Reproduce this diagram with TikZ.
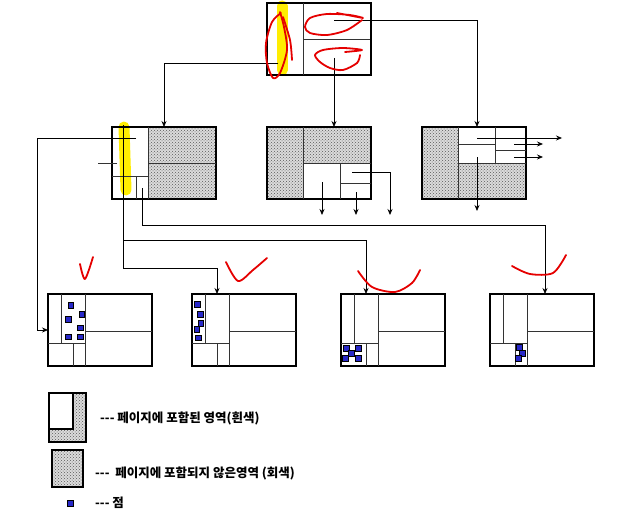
\documentclass[tikz,border=0pt]{standalone}
\usepackage{fontspec}
\newfontfamily\krfont{Noto Sans CJK KR}
\usetikzlibrary{patterns}
\usetikzlibrary{arrows.meta}

\definecolor{dotblue}{RGB}{40,40,200}

\tikzset{
  pagebox/.style={draw, line width=2.2pt, minimum width=104pt, minimum height=72pt,
    inner sep=0pt, outer sep=0pt, anchor=north west},
  grayarea/.style={pattern=crosshatch dots, pattern color=black!65, preaction={fill=black!14}},
  part/.style={black!80, line width=0.8pt},
  wire/.style={line width=0.8pt, -{Stealth[length=6pt,width=5pt]}},
  dotsq/.style={draw=black, fill=dotblue, line width=0.4pt, minimum size=5.5pt, inner sep=0pt},
  note/.style={red!90!black, line width=1.8pt, line cap=round, line join=round},
  hilite/.style={yellow!95!orange, line width=11pt, line cap=round},
  legendtext/.style={anchor=west, inner sep=0pt, font=\krfont\bfseries\fontsize{12.5}{14}\selectfont},
}

\begin{document}
\begin{tikzpicture}[x=1pt, y=-1pt]
  \useasboundingbox (0,0) rectangle (628,516);

  % highlighter marks
  \draw[hilite] (282,6) -- (282,70);
  \draw[hilite] (124,127) -- (126,190);

  % gray areas
  \fill[grayarea] (148,127) rectangle (216,199);
  \fill[grayarea] (267,127) rectangle (303,199);
  \fill[grayarea] (303,127) rectangle (371,163);
  \fill[grayarea] (422,127) rectangle (458,199);
  \fill[grayarea] (458,163) rectangle (526,199);

  % pages
  \node[pagebox] (top) at (267,3) {};
  \node[pagebox] (ml) at (112,127) {};
  \node[pagebox] (mc) at (267,127) {};
  \node[pagebox] (mr) at (422,127) {};
  \node[pagebox] (b1) at (48,294) {};
  \node[pagebox] (b2) at (192,294) {};
  \node[pagebox] (b3) at (341,294) {};
  \node[pagebox] (b4) at (490,294) {};

  % top page
  \draw[part] (303,3) -- (303,75);
  \draw[part] (303,39) -- (370,39);
  \coordinate (t1) at (278,63);
  \coordinate (t2) at (334,58);
  \coordinate (t3) at (334,20);
  \draw[wire] (t1) -| (ml.north);
  \draw[wire] (t2) -- (t2 |- mc.north);
  \draw[wire] (t3) -| ([xshift=3pt]mr.north);

  % middle left page
  \draw[part] (148,127) -- (148,199);
  \draw[part] (148,163) -- (216,163);
  \draw[part] (112,176) -- (148,176);
  \draw[part] (136,176) -- (136,199);
  \draw[part] (117,163) -- (98,163);
  \coordinate (m1) at (136,138);
  \coordinate (m2) at (123,125);
  \coordinate (m3) at (142,188);
  \coordinate (m4) at (123,240);
  \draw[wire] (m1) -- ++(-99,0) |- (b1.west);
  \draw[wire] (m2) -- ++(0,143) -| ([xshift=25pt]b2.north west);
  \draw[wire] (m4) -| ([xshift=25pt]b3.north west);
  \draw[wire] (m3) -- ++(0,37) -| ([xshift=55pt]b4.north west);

  % middle centre page
  \draw[part] (303,127) -- (303,199);
  \draw[part] (303,163) -- (371,163);
  \draw[part] (340,163) -- (340,199);
  \draw[part] (340,183) -- (371,183);
  \coordinate (c1) at (322,182);
  \coordinate (c2) at (356,192);
  \coordinate (c3) at (352,172);
  \draw[wire] (c1) -- ++(0,33);
  \draw[wire] (c2) -- ++(0,23);
  \draw[wire] (c3) -- ++(38,0) -- ++(0,43);

  % middle right page
  \draw[part] (458,127) -- (458,199);
  \draw[part] (458,163) -- (526,163);
  \draw[part] (495,127) -- (495,163);
  \draw[part] (458,144) -- (495,144);
  \draw[part] (495,150) -- (526,150);
  \coordinate (r1) at (477,138);
  \coordinate (r2) at (514,144);
  \coordinate (r3) at (514,157);
  \coordinate (r4) at (477,157);
  \draw[wire] (r1) -- ++(85,0);
  \draw[wire] (r2) -- ++(29,0);
  \draw[wire] (r3) -- ++(29,0);
  \draw[wire] (r4) -- ++(0,54);

  % bottom pages
  \foreach \x in {48,192,341,490} {
    \draw[part] (\x+13,294) -- (\x+13,343);
    \draw[part] (\x+37,294) -- (\x+37,366);
    \draw[part] (\x,343) -- (\x+37,343);
    \draw[part] (\x+25,343) -- (\x+25,366);
    \draw[part] (\x+37,331) -- (\x+104,331);
  }

  % points
  \foreach \p [count=\i] in {(70.7,305),(81.7,314),(68.3,319),(80,327.7),(68.3,336.7),(80,336.7)}
    \node[dotsq] (p1-\i) at \p {};
  \foreach \p [count=\i] in {(197.3,304.3),(200,314),(200.7,323.3),(196.7,329),(198.3,337.7)}
    \node[dotsq] (p2-\i) at \p {};
  \foreach \p [count=\i] in {(346,348),(358,348),(351,353),(345,358),(358,358)}
    \node[dotsq] (p3-\i) at \p {};
  \foreach \p [count=\i] in {(519,347),(522,353),(518,358)}
    \node[dotsq] (p4-\i) at \p {};

  % legend
  \fill[grayarea] (49,393) rectangle (86,442);
  \draw[line width=2.2pt] (49,393) rectangle (86,442);
  \fill[white] (49,393) rectangle (73,429);
  \draw[line width=2.2pt] (49,393) rectangle (73,429);
  \fill[grayarea] (52,450) rectangle (83,487);
  \draw[line width=2.2pt] (52,450) rectangle (83,487);
  \node[dotsq] (k3) at (70,503) {};
  \node[legendtext] (l1) at (100,418) {{-}{-}{-} 페이지에 포함된 영역(흰색)};
  \node[legendtext] (l2) at (95,473) {{-}{-}{-}\ \ 페이지에 포함되지 않은영역 (회색)};
  \node[legendtext] (l3) at (95,503) {{-}{-}{-} 점};

  % red pen marks
  \draw[note] plot[smooth] coordinates {(281,13) (272,22) (266,43) (267,63) (273,78) (280,73) (287,50) (284,27) (280,12)};
  \draw[note] plot[smooth] coordinates {(283,17) (290,40) (292,60)};
  \draw[note] plot[smooth] coordinates {(337,13) (363,18) (350,15) (327,14) (310,18) (305,27) (310,33) (327,35) (347,30) (362,20)};
  \draw[note] plot[smooth] coordinates {(345,52) (362,50) (343,48) (323,50) (315,55) (320,62) (330,68) (343,70) (357,63) (360,55)};
  \draw[note] plot[smooth] coordinates {(80,264) (85,279) (93,257)};
  \draw[note] plot[smooth] coordinates {(226,262) (238,281) (253,270) (267,258)};
  \draw[note] plot[smooth] coordinates {(358,271) (372,287) (395,292) (412,283) (420,270)};
  \draw[note] plot[smooth] coordinates {(512,266) (530,274) (553,273) (566,255)};
\end{tikzpicture}
\end{document}
